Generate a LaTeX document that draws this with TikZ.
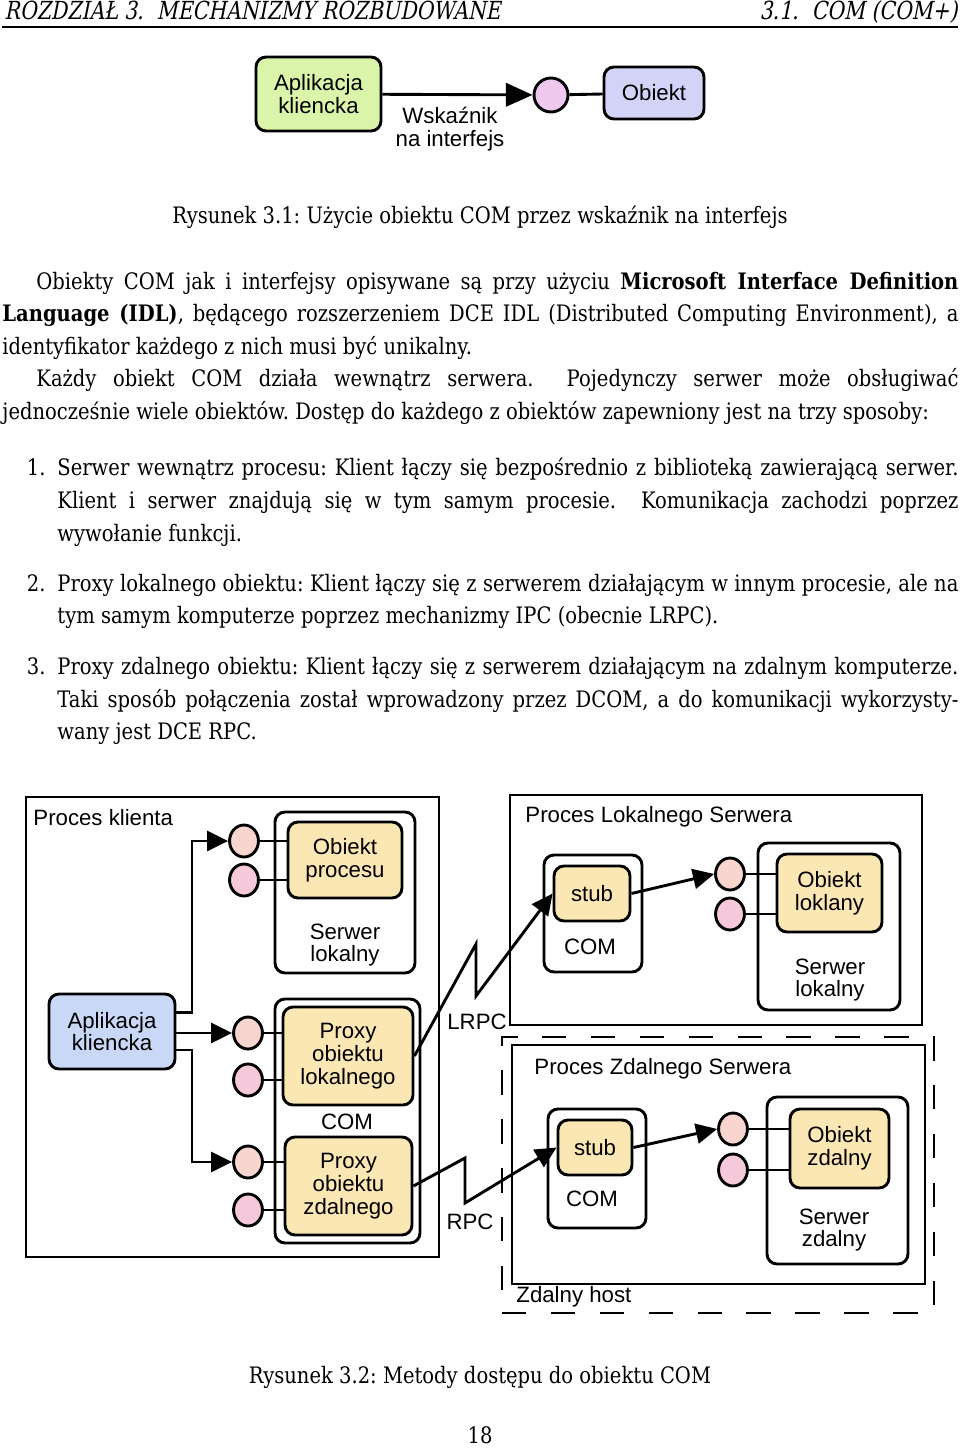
\documentclass[tikz,border=0pt]{standalone}
\usepackage{fontspec}
\setmainfont{DejaVu Serif}[FakeStretch=0.862]
\newfontfamily\headfont{DejaVu Serif}[FakeStretch=0.82,FakeSlant=0.2]
\newfontfamily\diafont{Liberation Sans}
\usetikzlibrary{arrows.meta,fit,shapes.geometric}

\definecolor{appgreen}{HTML}{DAF5AA}
\definecolor{objlav}{HTML}{D3D3F7}
\definecolor{ifcviolet}{HTML}{EFC8F0}
\definecolor{appblue}{HTML}{C9D8F6}
\definecolor{objyellow}{HTML}{FBE7B4}
\definecolor{portpeach}{HTML}{F8D6CF}
\definecolor{portpink}{HTML}{F6C9DA}

\newcommand{\jline}[2]{\makebox[#1][s]{#2}}

\tikzset{
  txt/.style={anchor=base west, inner sep=0pt, font=\fontsize{10.2}{12}\selectfont},
  lbl/.style={inner sep=0pt, align=center, font=\diafont\fontsize{10}{10.2}\selectfont},
  box/.style={draw, line width=1.3pt, rounded corners=4.5pt, inner sep=0pt},
  proc/.style={draw, line width=1.3pt, inner sep=0pt},
  hostframe/.style={draw, line width=1.3pt, inner sep=0pt, dash pattern=on 11pt off 11pt},
  port/.style={draw, ellipse, line width=1.3pt, minimum width=13pt, minimum height=14.4pt, inner sep=0pt},
  ptr/.style={line width=1.3pt, -{Triangle[length=9.5pt,width=9pt]}},
  wire/.style={line width=1.3pt},
}

\begin{document}
\frenchspacing
\begin{tikzpicture}[x=0.45pt, y=-0.45pt]
\useasboundingbox (0,0) rectangle (960,1448);

% Running head
\node[txt, font=\headfont\fontsize{11.2}{12}\selectfont] (headl) at (4,20) {ROZDZIAŁ 3.\ \ MECHANIZMY ROZBUDOWANE};
\node[txt, anchor=base east, font=\headfont\fontsize{11.2}{12}\selectfont] (headr) at (958,20) {3.1.\ \ COM (COM+)};
\draw[line width=0.5pt] (2,27) -- (958,27);

% Figure 3.1
\node[box, fill=appgreen, fit={(256,57) (381,131)}] (app) {};
\node[lbl] (apptxt) at (app) {Aplikacja\\kliencka};
\node[port, fill=ifcviolet, minimum width=15.3pt, minimum height=15.3pt] (ifc) at (551,95) {};
\node[box, fill=objlav, fit={(604,67) (704,119)}] (obj) {};
\node[lbl] (objtxt) at (obj) {Obiekt};
\node[lbl] (ptrlbl) at (450,129) {Wskaźnik\\na interfejs};
\draw[line width=1.3pt, -{Triangle[length=12pt,width=10.5pt]}] (app) -- (ifc);
\draw[wire] (ifc) -- (obj);

\node[txt, anchor=base] (cap1) at (480,223) {Rysunek 3.1: Użycie obiektu COM przez wskaźnik na interfejs};

% Paragraphs
\node[txt] (par1) at (36,289) {\jline{414.9pt}{Obiekty COM jak i interfejsy opisywane są przy użyciu \textbf{Microsoft Interface Definition}}};
\node[txt] (par2) at (2,321) {\jline{430.2pt}{\textbf{Language (IDL)}, będącego rozszerzeniem DCE IDL (Distributed Computing Environment), a}};
\node[txt] (par3) at (2,354) {identyfikator każdego z nich musi być unikalny.};
\node[txt] (par4) at (36,386.5) {\jline{414.9pt}{Każdy obiekt COM działa wewnątrz serwera.\ \ Pojedynczy serwer może obsługiwać}};
\node[txt] (par5) at (2,419) {jednocześnie wiele obiektów. Dostęp do każdego z obiektów zapewniony jest na trzy sposoby:};

% List
\node[txt, anchor=base east] (num1) at (46,475) {1.};
\node[txt] (it1a) at (57,475) {\jline{405.45pt}{Serwer wewnątrz procesu: Klient łączy się bezpośrednio z biblioteką zawierającą serwer.}};
\node[txt] (it1b) at (57,508) {\jline{405.45pt}{Klient i serwer znajdują się w tym samym procesie.\ \ Komunikacja zachodzi poprzez}};
\node[txt] (it1c) at (57,541) {wywołanie funkcji.};
\node[txt, anchor=base east] (num2) at (46,591) {2.};
\node[txt] (it2a) at (57,591) {\jline{405.45pt}{Proxy lokalnego obiektu: Klient łączy się z serwerem działającym w innym procesie, ale na}};
\node[txt] (it2b) at (57,623) {tym samym komputerze poprzez mechanizmy IPC (obecnie LRPC).};
\node[txt, anchor=base east] (num3) at (46,674) {3.};
\node[txt] (it3a) at (57,674) {\jline{405.45pt}{Proxy zdalnego obiektu: Klient łączy się z serwerem działającym na zdalnym komputerze.}};
\node[txt] (it3b) at (57,707) {\jline{405.45pt}{Taki sposób połączenia został wprowadzony przez DCOM, a do komunikacji wykorzysty-}};
\node[txt] (it3c) at (57,739) {wany jest DCE RPC.};

% Figure 3.2 -- client process
\node[proc, fit={(26,797) (439,1257)}] (pk) {};
\node[lbl, anchor=west] (pklbl) at (33,818) {Proces klienta};
\node[box, fit={(275,812) (415,973)}] (srvin) {};
\node[box, fill=objyellow, fit={(288,822) (402,898)}] (objproc) {};
\node[lbl] (objproctxt) at (objproc) {Obiekt\\procesu};
\node[lbl] (srvinlbl) at (345,945) {Serwer\\lokalny};
\node[port, fill=portpeach] (c1) at (244,841) {};
\node[port, fill=portpink] (c2) at (244,880) {};
\node[box, fill=appblue, fit={(49,994) (175,1069)}] (klient) {};
\node[lbl] (klienttxt) at (klient) {Aplikacja\\kliencka};
\node[box, fit={(275,999) (420,1243)}] (comk) {};
\node[box, fill=objyellow, fit={(283,1007) (413,1105)}] (proxyL) {};
\node[lbl] (proxyLtxt) at (proxyL) {Proxy\\obiektu\\lokalnego};
\node[lbl] (comklbl) at (347,1122) {COM};
\node[box, fill=objyellow, fit={(285,1137) (412,1235)}] (proxyZ) {};
\node[lbl] (proxyZtxt) at (proxyZ) {Proxy\\obiektu\\zdalnego};
\node[port, fill=portpeach] (c3) at (248,1033) {};
\node[port, fill=portpink] (c4) at (248,1080) {};
\node[port, fill=portpeach] (c5) at (248,1162) {};
\node[port, fill=portpink] (c6) at (248,1210) {};
\coordinate (bus) at (192,0);

\draw[ptr] ([yshift=8.5pt]klient.east) -| (bus |- c1) -- (c1);
\draw[ptr] (klient.east |- c3) -- (c3);
\draw[ptr] ([yshift=-8.3pt]klient.east) -| (bus |- c5) -- (c5);
\draw[wire] (c1) -- (c1 -| objproc.west);
\draw[wire] (c2) -- (c2 -| objproc.west);
\draw[wire] (c3) -- (c3 -| proxyL.west);
\draw[wire] (c4) -- (c4 -| proxyL.west);
\draw[wire] (c5) -- (c5 -| proxyZ.west);
\draw[wire] (c6) -- (c6 -| proxyZ.west);

% local server process
\node[proc, fit={(510,795) (922,1025)}] (pls) {};
\node[lbl, anchor=west] (plslbl) at (525,817) {Proces Lokalnego Serwera};
\node[box, fit={(544,855) (642,972)}] (comL) {};
\node[box, fill=objyellow, fit={(554,866) (630,921)}] (stubL) {};
\node[lbl] (stubLtxt) at (stubL) {stub};
\node[lbl] (comLlbl) at (590,947) {COM};
\node[port, fill=portpeach] (p1) at (730,874) {};
\node[port, fill=portpink] (p2) at (730,914) {};
\node[box, fit={(758,843) (900,1010)}] (srvL) {};
\node[box, fill=objyellow, fit={(777,854) (882,932)}] (objL) {};
\node[lbl] (objLtxt) at (objL) {Obiekt\\loklany};
\node[lbl] (srvLlbl) at (830,980) {Serwer\\lokalny};
\draw[ptr] (stubL.east) -- (p1.west);
\draw[wire] (p1) -- (p1 -| objL.west);
\draw[wire] (p2) -- (p2 -| objL.west);

% remote host
\node[hostframe, fit={(502,1037) (934,1313)}] (host) {};
\node[lbl, anchor=west] (hostlbl) at (516,1297) {Zdalny host};
\node[proc, fit={(512,1045) (925,1284)}] (pzs) {};
\node[lbl, anchor=west] (pzslbl) at (534,1069) {Proces Zdalnego Serwera};
\node[box, fit={(548,1109) (646,1228)}] (comZ) {};
\node[box, fill=objyellow, fit={(558,1120) (632,1175)}] (stubZ) {};
\node[lbl] (stubZtxt) at (stubZ) {stub};
\node[lbl] (comZlbl) at (592,1199) {COM};
\node[port, fill=portpeach] (r1) at (733,1129) {};
\node[port, fill=portpink] (r2) at (733,1170) {};
\node[box, fit={(767,1097) (908,1264)}] (srvZ) {};
\node[box, fill=objyellow, fit={(790,1109) (889,1188)}] (objZ) {};
\node[lbl] (objZtxt) at (objZ) {Obiekt\\zdalny};
\node[lbl] (srvZlbl) at (834,1230) {Serwer\\zdalny};
\draw[ptr] (stubZ.east) -- (r1.west);
\draw[wire] (r1) -- (r1 -| objZ.west);
\draw[wire] (r2) -- (r2 -| objZ.west);

% LRPC / RPC links
\coordinate (lrpcA) at (476,944);
\coordinate (lrpcB) at (476,996);
\coordinate (rpcA) at (465,1158);
\coordinate (rpcB) at (465,1203);
\draw[ptr] (proxyL.east) -- (lrpcA) -- (lrpcB) -- (stubL.west);
\draw[ptr] (proxyZ.east) -- (rpcA) -- (rpcB) -- (stubZ.west);
\node[lbl] (lrpclbl) at (477,1022) {LRPC};
\node[lbl] (rpclbl) at (470,1222) {RPC};

\node[txt, anchor=base] (cap2) at (480,1383) {Rysunek 3.2: Metody dostępu do obiektu COM};
\node[txt, anchor=base] (pagenum) at (480,1443) {18};
\end{tikzpicture}
\end{document}
